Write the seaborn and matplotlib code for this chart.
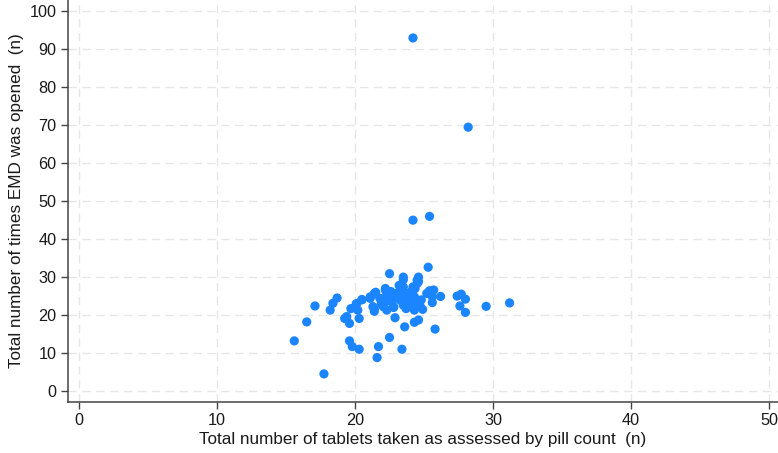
import matplotlib
matplotlib.use("Agg")
import matplotlib.pyplot as plt
import seaborn as sns
import pandas as pd

# pill count (x) vs number of EMD openings (y)
tablets = [
    24.2, 28.2, 24.2, 25.4, 25.3, 31.2, 29.5,
    22.5, 23.5, 24.6, 24.5, 24.2, 23.5,
    18.7, 18.4, 17.1, 18.2, 16.5, 19.25, 19.4, 19.6, 20.3, 19.7, 20.1, 20.2,
    20.5, 21.1, 21.4, 21.5, 21.8, 21.4, 21.4, 22.2, 22.3, 22.05, 22.3, 22.5,
    22.8, 22.9, 23.3, 23.5, 23.6, 23.3, 23.5, 23.7, 23.6, 24.3, 24.6, 24.5,
    24.35, 24.1,
    25.4, 25.7, 25.6, 26.2, 25.6, 27.4, 27.7, 28.0, 27.6, 28.0,
    24.3, 25.8, 24.5, 24.2, 23.7, 23.6,
    15.6, 19.6, 19.8, 20.3, 21.7, 21.6, 17.75, 22.5, 23.4,
    22.2, 23.4, 24.2, 20.1, 20.5, 21.1, 21.45, 22.3, 22.65, 23.0, 23.8,
    24.3, 24.7, 22.8, 22.05, 21.3, 25.2,
    23.9, 24.0, 24.4, 24.8, 23.2, 22.6, 24.9, 23.0, 21.9, 24.6,
]
opened = [
    93.0, 69.5, 45.0, 46.0, 32.6, 23.2, 22.3,
    30.9, 30.0, 30.0, 28.3, 27.4, 29.3,
    24.5, 23.1, 22.4, 21.3, 18.2, 19.1, 19.6, 17.8, 19.1, 21.7, 22.9, 21.3,
    24.1, 24.4, 25.7, 26.0, 24.4, 21.6, 21.0, 26.6, 25.4, 22.9, 21.3, 23.7,
    22.0, 19.3, 26.6, 27.4, 25.3, 23.9, 22.6, 21.7, 16.9, 21.3, 18.7, 29.2,
    27.0, 23.9,
    26.4, 26.6, 24.8, 24.9, 23.3, 25.0, 25.5, 24.2, 22.4, 20.7,
    18.1, 16.3, 23.9, 22.6, 22.2, 25.7,
    13.2, 13.2, 11.7, 11.0, 11.7, 8.8, 4.5, 14.1, 11.0,
    27.0, 27.4, 26.6, 23.0, 24.0, 24.8, 25.7, 24.8, 23.9, 25.7, 23.9,
    24.8, 22.6, 22.2, 22.2, 22.2, 25.7,
    25.0, 26.0, 23.0, 24.0, 27.8, 26.2, 21.5, 24.5, 23.0, 28.8,
]

x_ticks = [0, 10, 20, 30, 40, 50]
y_ticks = [0, 10, 20, 30, 40, 50, 60, 70, 80, 90, 100]

df = pd.DataFrame({"tablets": tablets, "opened": opened})

sns.set_style("white")
plt.rcParams["font.family"] = ["Liberation Sans", "DejaVu Sans"]

fig = plt.figure(figsize=(7.78, 4.53), dpi=100)
ax = fig.add_axes([0.087, 0.1126, 0.913, 0.8874])

sns.scatterplot(data=df, x="tablets", y="opened", ax=ax, s=44,
                color="#1A85FF", edgecolor="none", linewidth=0, zorder=3)

ax.set_xlim(-0.82, 50.65)
ax.set_ylim(-2.9, 103)
ax.set_xticks(x_ticks)
ax.set_yticks(y_ticks)
ax.grid(True, color="#e6e6e6", linestyle=(0, (6, 4)), linewidth=1.0, zorder=0)

for side in ["top", "right"]:
    ax.spines[side].set_visible(False)
for side in ["left", "bottom"]:
    ax.spines[side].set_color("#444444")
    ax.spines[side].set_linewidth(1.1)

ax.tick_params(axis="both", direction="out", length=5, width=1.0,
               color="#444444", labelsize=11.7, labelcolor="#1a1a1a", pad=3)
ax.tick_params(bottom=True, left=True)

ax.set_xlabel("Total number of tablets taken as assessed by pill count  (n)",
              fontsize=12.3, color="#1a1a1a", labelpad=3)
ax.set_ylabel("Total number of times EMD was opened  (n)",
              fontsize=12.3, color="#1a1a1a", labelpad=4)

fig.savefig("out.png", dpi=100)
